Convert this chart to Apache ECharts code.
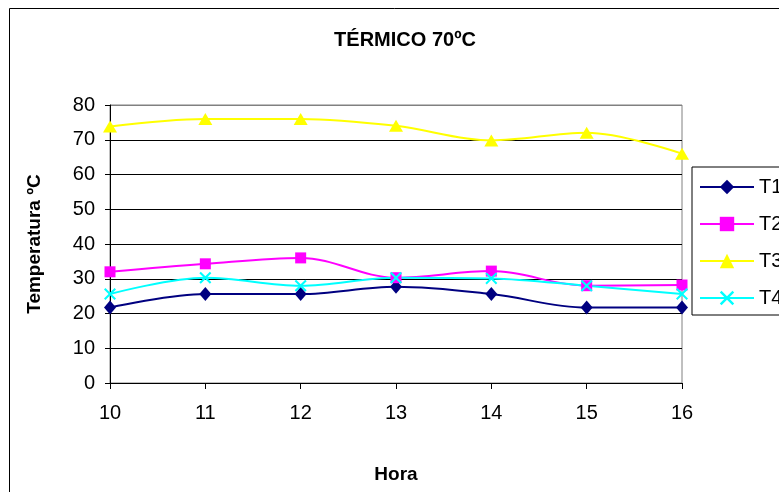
<!DOCTYPE html>
<html>
<head>
<meta charset="utf-8">
<script src="https://cdn.jsdelivr.net/npm/echarts@6/dist/echarts.min.js"></script>
<style>html,body{margin:0;padding:0;background:#fff;}#c{width:779px;height:492px;}</style>
</head>
<body>
<div id="c"></div>
<script>
var categories = ['10','11','12','13','14','15','16'];
var T1 = [21.7, 25.6, 25.6, 27.7, 25.6, 21.7, 21.7];
var T2 = [32.0, 34.3, 36.0, 30.3, 32.2, 28.0, 28.2];
var T3 = [73.8, 76.0, 76.0, 74.0, 69.8, 72.0, 66.0];
var T4 = [25.6, 30.3, 28.0, 30.3, 30.1, 28.0, 25.6];
var yTicks = [0, 10, 20, 30, 40, 50, 60, 70, 80];

var FONT = '"Liberation Sans", Arial, sans-serif';
var xPath = 'path://M0,1.2L1.2,0L5,3.8L8.8,0L10,1.2L6.2,5L10,8.8L8.8,10L5,6.2L1.2,10L0,8.8L3.8,5Z';

var chart = echarts.init(document.getElementById('c'), null, {renderer: 'canvas'});
function mk(name, data, color, symbol, size) {
  return {
    name: name, type: 'line', data: data, smooth: 0.35,
    symbol: symbol, symbolSize: size, showSymbol: true,
    lineStyle: {color: color, width: 2},
    itemStyle: {color: color},
    emphasis: {disabled: true},
    animation: false
  };
}
var splitColors = yTicks.map(function (v, i) { return i === yTicks.length - 1 ? '#808080' : '#000000'; });
chart.setOption({
  backgroundColor: '#ffffff',
  animation: false,
  title: {
    text: 'TÉRMICO 70ºC', left: 400, top: 25, textAlign: 'center',
    textStyle: {fontFamily: FONT, fontSize: 20, fontWeight: 'bold', color: '#000'}
  },
  graphic: [{
    type: 'rect', shape: {x: 9.5, y: 8.5, width: 800, height: 500},
    style: {fill: 'none', stroke: '#000', lineWidth: 1}, z: -1
  }],
  grid: {left: 110, right: 97, top: 105, bottom: 109, show: true, borderColor: '#808080', borderWidth: 1, backgroundColor: '#fff'},
  legend: {
    orient: 'vertical', left: 692, top: 167,
    padding: [10, 20, 7, 7], itemWidth: 54, itemHeight: 18, itemGap: 17,
    borderColor: '#000', borderWidth: 1,
    textStyle: {fontFamily: FONT, fontSize: 20, color: '#000'},
    data: ['T1', 'T2', 'T3', 'T4']
  },
  xAxis: {
    type: 'category', data: categories, boundaryGap: false,
    name: 'Hora', nameLocation: 'middle', nameGap: 82,
    nameTextStyle: {fontFamily: FONT, fontSize: 19, fontWeight: 'bold', color: '#000'},
    axisLine: {lineStyle: {color: '#000', width: 1}},
    axisTick: {show: true, length: 6, lineStyle: {color: '#000'}},
    axisLabel: {fontFamily: FONT, fontSize: 20, color: '#000', margin: 20},
    splitLine: {show: false}
  },
  yAxis: {
    type: 'value', min: 0, max: 80, interval: 10,
    name: 'Temperatura ºC', nameLocation: 'middle', nameGap: 66, nameRotate: 90,
    nameTextStyle: {fontFamily: FONT, fontSize: 19, fontWeight: 'bold', color: '#000'},
    axisLine: {show: true, lineStyle: {color: '#000', width: 1}},
    axisTick: {show: true, length: 5, lineStyle: {color: '#000'}},
    axisLabel: {fontFamily: FONT, fontSize: 20, color: '#000', margin: 15},
    splitLine: {show: true, lineStyle: {color: splitColors, width: 1}}
  },
  series: [
    mk('T1', T1, '#000080', 'diamond', [12, 14]),
    mk('T2', T2, '#FF00FF', 'rect', 11),
    mk('T3', T3, '#FFFF00', 'triangle', [14, 12]),
    mk('T4', T4, '#00FFFF', xPath, 12)
  ]
});
</script>
</body>
</html>
